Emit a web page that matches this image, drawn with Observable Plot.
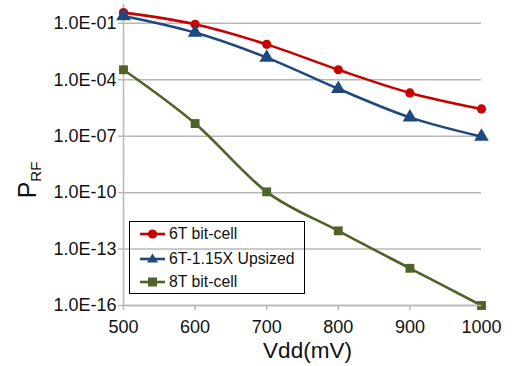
<!DOCTYPE html>
<html>
<head>
<meta charset="utf-8">
<script src="https://cdn.jsdelivr.net/npm/d3@7"></script>
<script src="https://cdn.jsdelivr.net/npm/@observablehq/plot@0.6"></script>
<style>
  html, body { margin: 0; padding: 0; background: #fff; }
  #wrap { position: relative; width: 512px; height: 366px; font-family: "Liberation Sans", Arial, Helvetica, sans-serif; }
  #ylab { position: absolute; left: 28px; top: 180px; transform: translate(-50%, -50%) rotate(-90deg); font-size: 25px; white-space: nowrap; color: #111; }
  #ylab sub { font-size: 15px; vertical-align: -5px; }
  #legend { position: absolute; left: 129px; top: 221px; width: 176px; height: 73px; border: 1px solid #000; box-sizing: border-box; font-size: 15.8px; color: #111; }
  #legend .row { position: absolute; left: 10px; height: 20px; display: flex; align-items: center; }
  #legend svg { margin-right: 4px; }
</style>
</head>
<body>
<div id="wrap">
  <div id="plot"></div>
  <div id="ylab">P<sub>RF</sub></div>
  <div id="legend"></div>
</div>
<script>
const vdd = [500, 600, 700, 800, 900, 1000];
const p6T = [0.37, 0.089, 7.6e-3, 3.4e-4, 2.0e-5, 2.8e-6];
const p6TUp = [0.245, 0.032, 1.5e-3, 3.3e-5, 1.0e-6, 9.5e-8];
const p8T = [3.4e-4, 4.7e-7, 1.1e-10, 9.3e-13, 9.5e-15, 1.0e-16];
const seriesNames = ["6T bit-cell", "6T-1.15X Upsized", "8T bit-cell"];
const seriesColors = ["#c80000", "#1f497d", "#4f6228"];
const seriesSymbols = ["circle", "triangle", "square"];
const yTicks = [1e-1, 1e-4, 1e-7, 1e-10, 1e-13, 1e-16];
const xTicks = [500, 600, 700, 800, 900, 1000];
const xTitle = "Vdd(mV)";

const seriesValues = [p6T, p6TUp, p8T];
const data = [];
seriesNames.forEach((name, i) => {
  vdd.forEach((v, j) => data.push({series: name, vdd: v, p: seriesValues[i][j]}));
});

const fmt = d => {
  const e = Math.round(Math.log10(d));
  return "1.0E" + (e < 0 ? "-" : "+") + String(Math.abs(e)).padStart(2, "0");
};

const gridColor = "#b8b8b8";
const marks = [
  Plot.ruleY(yTicks, {stroke: gridColor, strokeWidth: 1.5}),
  Plot.ruleX([500], {stroke: gridColor, strokeWidth: 1.5}),
  Plot.axisY({ticks: yTicks, tickFormat: fmt, tickSize: 5, tickPadding: 2, fontSize: 18, stroke: gridColor, strokeWidth: 1.5, color: "#111", label: null}),
  Plot.axisX({ticks: xTicks, tickFormat: d => String(d), tickSize: 5, tickPadding: 10, fontSize: 18, stroke: gridColor, strokeWidth: 1.5, color: "#111", label: null}),
  Plot.text([xTitle], {frameAnchor: "bottom", dy: 52, fontSize: 22.5, fill: "#111", dx: 5})
];
seriesNames.forEach((name, i) => {
  const d = data.filter(r => r.series === name);
  marks.push(Plot.line(d, {x: "vdd", y: "p", stroke: seriesColors[i], strokeWidth: 2.6, curve: "cardinal", tension: 0}));
});
seriesNames.forEach((name, i) => {
  const d = data.filter(r => r.series === name);
  marks.push(Plot.dot(d, {x: "vdd", y: "p", fill: seriesColors[i], stroke: "none", symbol: seriesSymbols[i], r: seriesSymbols[i] === "circle" ? 4.6 : (seriesSymbols[i] === "triangle" ? 5.4 : 5)}));
});
marks.push(Plot.ruleY([1e-16], {stroke: gridColor, strokeWidth: 1.5}));

const chart = Plot.plot({
  width: 512,
  height: 366,
  marginLeft: 123,
  marginRight: 31,
  marginTop: 4,
  marginBottom: 61,
  style: {fontFamily: "'Liberation Sans', Arial, Helvetica, sans-serif", background: "#fff", overflow: "visible"},
  x: {domain: [500, 1000]},
  y: {type: "log", domain: [1e-16, 1]},
  marks
});
document.getElementById("plot").appendChild(chart);

// legend
const legend = document.getElementById("legend");
const rowTops = [2, 27, 50];
seriesNames.forEach((name, i) => {
  const row = document.createElement("div");
  row.className = "row";
  row.style.top = rowTops[i] + "px";
  const sym = seriesSymbols[i];
  let shape;
  if (sym === "circle") shape = `<circle cx="12.5" cy="10" r="4.6" fill="${seriesColors[i]}"/>`;
  else if (sym === "triangle") shape = `<path d="M12.5,4.5L18,13.5L7,13.5Z" fill="${seriesColors[i]}"/>`;
  else shape = `<rect x="8" y="5.5" width="9" height="9" fill="${seriesColors[i]}"/>`;
  row.innerHTML = `<svg width="25" height="20"><line x1="0" x2="25" y1="10" y2="10" stroke="${seriesColors[i]}" stroke-width="2.6"/>${shape}</svg><span>${name}</span>`;
  legend.appendChild(row);
});
</script>
</body>
</html>
